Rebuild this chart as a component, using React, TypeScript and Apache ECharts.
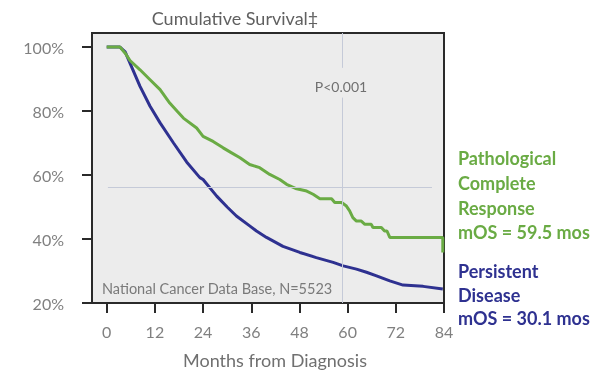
import React, { useEffect, useRef } from "react";
import * as echarts from "echarts";

const xTicks = [0, 12, 24, 36, 48, 60, 72, 84];
const yTicks = [20, 40, 60, 80, 100];

// Pathological complete response: [month, % surviving]
const pcrSurvival: [number, number][] = [
  [0, 100], [3.3, 100], [4.6, 98.1], [5.8, 95.8], [8.3, 92.9], [10.8, 89.8],
  [13.3, 86.7], [15.7, 82.5], [17.5, 80], [19.1, 77.8], [22.4, 74.7], [24, 72.1],
  [26.5, 70.5], [29, 68.5], [31, 67], [33.2, 65.4], [35.6, 63.3], [38.1, 62.3],
  [40.6, 60.2], [43.1, 58.6], [44.8, 57.1], [47.3, 55.7], [49.8, 55.0], [51.4, 54.0],
  [53.1, 52.6], [56.0, 52.6], [56.8, 51.4], [58.5, 51.4], [59.7, 50.3], [60.5, 48.8],
  [61.3, 46.7], [62.2, 45.6], [63.4, 45.6], [64.3, 44.6], [65.9, 44.6], [66.3, 43.6],
  [68.4, 43.6], [69.2, 42.5], [69.8, 42.5], [70.5, 40.5], [83.7, 40.5], [83.7, 35.8],
];

// Persistent disease: [month, % surviving]
const persistentSurvival: [number, number][] = [
  [0, 100], [3.3, 100], [4.6, 98.5], [5.8, 95], [8.3, 87.7], [10.8, 81.5],
  [13.3, 76.3], [16.6, 70.1], [19.9, 64.1], [23.2, 59.2], [24, 58.6], [27.4, 53.4],
  [30, 50], [32.3, 47.2], [35.6, 44.1], [37.3, 42.5], [39.8, 40.5], [43.9, 37.7],
  [48.1, 35.8], [52.2, 34.2], [56.4, 32.7], [58.9, 31.6], [62.2, 30.6], [64.7, 29.6],
  [67.2, 28.5], [70.5, 26.9], [73.8, 25.6], [78.8, 25.2], [83.7, 24.4],
];

const xMin = -3.66;
const xMax = 84;
const yMin = 20;
const yMax = 104.4;
const crossMonth = 58.6;
const crossLevel = 56.2;
const crossGapTop = 93.5;
const crossGapBottom = 84.2;
const crossStart = 0.3;
const crossEnd = 81;

const GREEN = "#6aab44";
const BLUE = "#2e3190";
const FONT = "Lato";

export default function App() {
  const ref = useRef<HTMLDivElement>(null);
  useEffect(() => {
    const chart = echarts.init(ref.current!, null, { renderer: "svg" });
    chart.setOption({
      animation: false,
      textStyle: { fontFamily: FONT },
      grid: {
        left: 92, top: 33, right: 153, bottom: 68,
        show: true, backgroundColor: "#ececec", borderColor: "#2a2a2a", borderWidth: 2,
      },
      xAxis: {
        type: "value", min: xMin, max: xMax,
        splitLine: { show: false },
        axisLine: { show: true, onZero: false, lineStyle: { color: "#2a2a2a", width: 2 } },
        axisTick: { show: true, length: 10, customValues: xTicks, lineStyle: { color: "#2a2a2a", width: 2 } },
        axisLabel: { customValues: xTicks, margin: 20, fontSize: 16, color: "#808080", fontFamily: FONT },
      },
      yAxis: {
        type: "value", min: yMin, max: yMax,
        splitLine: { show: false },
        axisLine: { show: true, onZero: false, lineStyle: { color: "#2a2a2a", width: 2 } },
        axisTick: { show: true, length: 10, customValues: yTicks, lineStyle: { color: "#2a2a2a", width: 2 } },
        axisLabel: { customValues: yTicks, margin: 28, fontSize: 16, color: "#808080", fontFamily: FONT, formatter: "{value}%" },
      },
      series: [
        {
          type: "line", data: [], z: 1, silent: true,
          markLine: {
            silent: true, symbol: "none", label: { show: false },
            lineStyle: { color: "#c5cad8", width: 1, type: "solid" },
            data: [
              [{ coord: [crossMonth, yMax] }, { coord: [crossMonth, crossGapTop] }],
              [{ coord: [crossMonth, crossGapBottom] }, { coord: [crossMonth, yMin] }],
              [{ coord: [crossStart, crossLevel] }, { coord: [crossEnd, crossLevel] }],
            ],
          },
        },
        {
          name: "Persistent Disease", type: "line", data: persistentSurvival, z: 2,
          showSymbol: false, lineStyle: { color: BLUE, width: 3 }, itemStyle: { color: BLUE },
        },
        {
          name: "Pathological Complete Response", type: "line", data: pcrSurvival, z: 3,
          showSymbol: false, lineStyle: { color: GREEN, width: 3 }, itemStyle: { color: GREEN },
        },
      ],
      graphic: [
        { type: "text", x: 235, y: 18, style: { text: "Cumulative Survival‡", font: `18px ${FONT}`, fill: "#606060", textAlign: "center", textVerticalAlign: "middle" } },
        { type: "text", x: 341, y: 86, style: { text: "P<0.001", font: `14px ${FONT}`, fill: "#707070", textAlign: "center", textVerticalAlign: "middle" } },
        { type: "text", x: 102, y: 288, style: { text: "National Cancer Data Base, N=5523", font: `14.5px ${FONT}`, fill: "#7a7a7a", textAlign: "left", textVerticalAlign: "middle" } },
        { type: "text", x: 275, y: 360, style: { text: "Months from Diagnosis", font: `18px ${FONT}`, fill: "#707070", textAlign: "center", textVerticalAlign: "middle" } },
        { type: "text", x: 458, y: 146, style: { text: "Pathological\nComplete\nResponse\nmOS = 59.5 mos", font: `bold 18px ${FONT}`, lineHeight: 24.7, fill: GREEN, textAlign: "left", textVerticalAlign: "top" } },
        { type: "text", x: 458, y: 259.5, style: { text: "Persistent\nDisease\nmOS = 30.1 mos", font: `bold 18px ${FONT}`, lineHeight: 23.5, fill: BLUE, textAlign: "left", textVerticalAlign: "top" } },
      ],
    });
    return () => chart.dispose();
  }, []);
  return <div ref={ref} style={{ position: "fixed", left: 0, top: 0, width: 597, height: 371 }} />;
}
